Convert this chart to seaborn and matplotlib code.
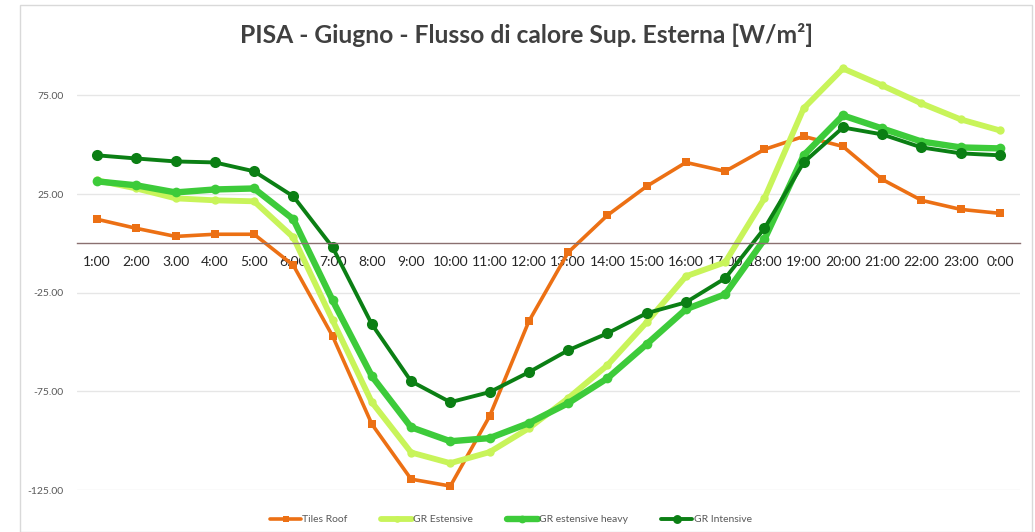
import matplotlib
matplotlib.use("Agg")
import matplotlib.pyplot as plt
import seaborn as sns
import pandas as pd

hours = ["1:00", "2:00", "3.00", "4:00", "5:00", "6:00", "7:00", "8:00", "9:00",
         "10:00", "11:00", "12:00", "13:00", "14:00", "15:00", "16:00", "17.00",
         "18:00", "19:00", "20:00", "21:00", "22:00", "23:00", "0:00"]

tiles_roof = [12.2, 7.6, 3.5, 4.6, 4.6, -11.1, -47.0, -91.6, -119.5, -123.0, -87.6, -39.5,
              -4.6, 14.2, 28.9, 41.0, 36.5, 47.6, 54.2, 49.1, 32.4, 21.8, 17.2, 15.2]
gr_estensive = [31.9, 27.8, 22.8, 21.8, 21.3, 3.0, -39.0, -80.5, -106.0, -111.4, -105.8, -93.7,
                -78.5, -61.8, -40.0, -16.7, -9.6, 22.8, 68.4, 88.6, 80.0, 70.9, 62.8, 57.2]
gr_est_heavy = [31.4, 29.4, 25.8, 27.3, 27.8, 12.2, -28.9, -67.3, -93.2, -100.3, -98.7, -91.1,
                -81.0, -68.4, -51.1, -33.4, -25.8, 2.0, 44.6, 64.8, 58.2, 51.6, 48.6, 48.1]
gr_intensive = [44.6, 43.0, 41.5, 41.0, 36.5, 23.8, -2.0, -41.0, -69.9, -80.5, -75.4, -65.3,
                -54.2, -45.6, -35.4, -29.9, -17.7, 7.6, 41.0, 58.7, 55.2, 48.6, 45.6, 44.6]

series = {
    "Tiles Roof": tiles_roof,
    "GR Estensive": gr_estensive,
    "GR estensive heavy": gr_est_heavy,
    "GR Intensive": gr_intensive,
}
styles = {
    "Tiles Roof": dict(color="#EC7014", lw=2.6, marker="s", ms=6),
    "GR Estensive": dict(color="#C8F45A", lw=4.2, marker="o", ms=6),
    "GR estensive heavy": dict(color="#3DCB3A", lw=4.6, marker="o", ms=7),
    "GR Intensive": dict(color="#0B7F14", lw=2.8, marker="o", ms=8),
}

rows = []
for name, vals in series.items():
    for i, v in enumerate(vals):
        rows.append({"pos": i, "hour": hours[i], "value": v, "series": name})
df = pd.DataFrame(rows)

sns.set_style("white")
plt.rcParams["font.family"] = ["Lato", "DejaVu Sans"]

fig = plt.figure(figsize=(10.35, 5.32), dpi=100)
ax = fig.add_axes([77.4 / 1035, 42 / 532, (1019.6 - 77.4) / 1035, (490 - 46) / 532])

for name in series:
    st = styles[name]
    sub = df[df["series"] == name]
    sns.lineplot(data=sub, x="pos", y="value", ax=ax, color=st["color"], lw=st["lw"],
                 marker=st["marker"], markersize=st["ms"], markeredgewidth=0,
                 label=name, sort=False)

ax.set_xlim(-0.5, 23.5)
ax.set_ylim(-125, 100)
ax.set_yticks([-125, -75, -25, 25, 75])
ax.set_yticklabels([f"{v:.2f}" for v in [-125, -75, -25, 25, 75]], fontsize=7.5, color="#595959")
ax.set_xticks(range(len(hours)))
ax.set_xticklabels(hours, fontsize=8, color="#595959")
ax.tick_params(axis="both", length=0)
ax.tick_params(axis="x", pad=9)
ax.tick_params(axis="y", pad=10)
ax.yaxis.grid(True, color="#e6e6e6", lw=1)
ax.set_axisbelow(True)
for s in ["top", "right", "left"]:
    ax.spines[s].set_visible(False)
ax.spines["bottom"].set_position(("data", 0))
ax.spines["bottom"].set_color("#8a7070")
ax.spines["bottom"].set_linewidth(1)
ax.set_xlabel("")
ax.set_ylabel("")

fig.text(526 / 1035, 1 - 35 / 532, "PISA - Giugno - Flusso di calore Sup. Esterna [W/m²]",
         fontsize=17.7, fontweight="bold", color="#404040", ha="center", va="center")

leg = ax.legend(loc="upper center", bbox_to_anchor=(0.46, -0.035), ncol=4, frameon=False,
                fontsize=7.5, handlelength=3.0, handletextpad=0.1, columnspacing=3.2,
                markerscale=0.8)
for t in leg.get_texts():
    t.set_color("#595959")

# chart border
fig.patches.append(plt.Rectangle((20 / 1035, 0), 1012 / 1035, 527 / 532, transform=fig.transFigure,
                                 fill=False, edgecolor="#d9d9d9", lw=1))

fig.savefig("out.png", dpi=100)
